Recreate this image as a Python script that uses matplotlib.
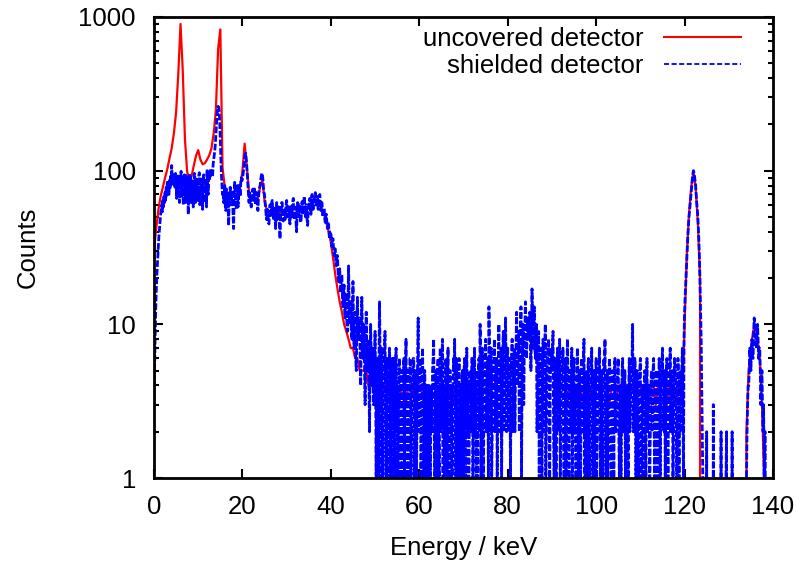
import numpy as np
import matplotlib
matplotlib.use("Agg")
import matplotlib.pyplot as plt
from matplotlib.ticker import LogLocator, NullFormatter

plt.rcParams["font.family"] = ["Liberation Sans", "DejaVu Sans"]
# keep every channel of the dense spectra when rendering
plt.rcParams["path.simplify"] = False

# Channel widths of the two spectra (keV per channel)
shielded_bin_kev = 0.125
uncovered_bin_kev = 0.5

# Shielded detector, counts per 0.125 keV channel (one row = 2.5 keV)
shielded_00_20 = [
    3, 5, 8, 12, 16, 20, 24, 28, 33, 38, 42, 47, 52, 56, 60, 54, 64, 58, 68, 62,
    72, 64, 78, 68, 84, 74, 80, 70, 88, 76, 92, 82, 108, 86, 80, 94, 84, 90, 78, 96,
    86, 66, 95, 78, 70, 92, 62, 88, 80, 99, 68, 90, 84, 60, 64, 94, 88, 62, 93, 66,
    82, 90, 52, 78, 68, 95, 91, 62, 67, 86, 85, 58, 78, 96, 94, 62, 66, 84, 88, 64,
    73, 92, 97, 60, 70, 88, 83, 66, 56, 90, 94, 62, 75, 86, 86, 58, 100, 82, 70, 90,
    86, 100, 92, 96, 100, 94, 92, 110, 118, 126, 135, 150, 172, 198, 228, 250, 262, 258, 245, 205,
    160, 120, 95, 80, 70, 74, 62, 70, 80, 58, 55, 76, 74, 62, 66, 44, 66, 72, 78, 60,
    60, 74, 70, 52, 42, 64, 84, 70, 63, 56, 72, 80, 58, 66, 80, 74, 68, 84, 90, 86,
]
shielded_20_40 = [
    88, 94, 100, 110, 122, 128, 130, 118, 105, 92, 80, 70, 62, 72, 70, 60, 58, 66, 72, 76,
    64, 70, 76, 68, 60, 72, 70, 62, 55, 66, 74, 78, 80, 86, 92, 96, 96, 88, 78, 72,
    70, 62, 58, 50, 48, 56, 55, 46, 45, 54, 60, 50, 52, 62, 64, 54, 48, 56, 57, 50,
    42, 55, 62, 48, 50, 58, 58, 44, 36, 50, 55, 62, 62, 52, 47, 57, 57, 48, 52, 60,
    64, 55, 50, 58, 58, 48, 45, 56, 60, 50, 53, 62, 66, 52, 48, 58, 57, 46, 40, 54,
    62, 50, 51, 60, 59, 47, 46, 58, 63, 52, 54, 64, 68, 56, 50, 60, 60, 48, 44, 56,
    58, 64, 66, 54, 52, 66, 70, 60, 56, 62, 64, 70, 72, 62, 58, 66, 68, 56, 60, 68,
    70, 60, 55, 62, 62, 52, 50, 56, 57, 48, 46, 52, 52, 44, 42, 46, 44, 38, 36, 40,
]
shielded_40_60 = [
    40, 34, 32, 36, 36, 30, 28, 31, 31, 26, 24, 28, 28, 22, 19, 22, 23, 18, 16, 20,
    21, 15, 13, 17, 18, 12, 11, 15, 16, 10, 9, 13, 24, 14, 10, 12, 14, 9, 8, 11,
    19, 10, 7, 11, 12, 6, 5, 9, 15, 10, 8, 11, 11, 6, 4, 9, 15, 9, 6, 10,
    9, 5, 3, 7, 12, 7, 5, 8, 8, 4, 2, 6, 10, 6, 4, 7, 7, 3, 3, 6,
    9, 4, 1, 6, 6, 2, 1, 5, 14, 7, 1, 6, 7, 2, 1, 4, 5, 7, 9, 2,
    1, 5, 6, 2, 1, 4, 7, 5, 2, 1, 5, 6, 1, 3, 6, 2, 1, 5, 7, 2,
    4, 1, 2, 5, 6, 2, 1, 5, 5, 1, 2, 4, 6, 1, 4, 5, 8, 2, 1, 5,
    5, 1, 3, 6, 6, 1, 2, 4, 4, 6, 6, 1, 2, 4, 5, 1, 3, 6, 11, 2,
]
shielded_60_80 = [
    4, 6, 6, 1, 2, 5, 7, 2, 1, 5, 5, 2, 1, 3, 4, 1, 3, 4, 4, 2,
    1, 3, 4, 2, 5, 6, 8, 2, 1, 3, 5, 4, 1, 5, 6, 2, 1, 5, 7, 2,
    3, 6, 8, 1, 4, 2, 1, 5, 6, 2, 1, 5, 7, 3, 1, 5, 5, 2, 4, 1,
    1, 4, 6, 5, 8, 2, 1, 6, 5, 1, 2, 4, 6, 1, 4, 2, 1, 4, 5, 2,
    1, 5, 6, 3, 1, 5, 7, 2, 4, 1, 1, 5, 5, 2, 3, 6, 6, 1, 2, 5,
    7, 2, 4, 1, 5, 3, 1, 5, 6, 2, 10, 6, 1, 5, 7, 2, 1, 3, 5, 6,
    8, 2, 3, 5, 6, 1, 13, 7, 2, 6, 7, 1, 2, 4, 5, 6, 8, 2, 3, 6,
    6, 1, 4, 5, 10, 2, 2, 5, 7, 1, 5, 6, 9, 2, 3, 7, 11, 6, 2, 6,
]
shielded_80_100 = [
    7, 2, 2, 5, 6, 1, 4, 6, 8, 2, 3, 6, 7, 2, 5, 7, 12, 7, 4, 7,
    9, 2, 6, 8, 13, 1, 5, 7, 10, 3, 7, 9, 14, 9, 6, 8, 11, 9, 8, 10,
    12, 8, 5, 9, 17, 11, 7, 9, 13, 8, 6, 8, 10, 2, 3, 6, 9, 1, 5, 6,
    7, 2, 1, 5, 8, 2, 4, 7, 10, 1, 3, 5, 6, 7, 8, 2, 1, 4, 7, 6,
    5, 7, 9, 2, 1, 4, 6, 1, 1, 4, 7, 5, 2, 6, 8, 1, 2, 4, 5, 6,
    7, 2, 1, 5, 6, 1, 1, 4, 8, 5, 2, 1, 5, 4, 2, 5, 7, 1, 3, 5,
    6, 2, 4, 1, 1, 4, 7, 5, 1, 4, 5, 2, 1, 4, 6, 5, 2, 6, 8, 1,
    1, 3, 5, 2, 1, 5, 6, 2, 1, 3, 4, 5, 7, 2, 1, 3, 5, 1, 3, 4,
]
shielded_100_120 = [
    6, 1, 2, 3, 4, 5, 7, 2, 1, 4, 5, 2, 1, 4, 6, 5, 8, 2, 1, 4,
    5, 1, 2, 4, 6, 5, 2, 1, 1, 3, 5, 4, 1, 5, 6, 2, 2, 3, 4, 5,
    6, 2, 1, 3, 4, 1, 3, 5, 6, 2, 2, 4, 5, 1, 3, 4, 4, 2, 1, 4,
    6, 2, 3, 4, 5, 6, 10, 2, 2, 4, 6, 5, 1, 4, 5, 2, 1, 3, 4, 5,
    6, 1, 2, 3, 4, 1, 3, 4, 5, 2, 1, 4, 6, 2, 3, 4, 4, 1, 2, 4,
    5, 2, 3, 5, 6, 2, 1, 3, 4, 5, 5, 1, 2, 4, 6, 5, 1, 4, 4, 5,
    7, 2, 2, 4, 5, 1, 3, 5, 6, 2, 1, 3, 4, 5, 7, 2, 3, 4, 5, 1,
    2, 4, 6, 5, 4, 2, 1, 4, 6, 5, 1, 4, 5, 2, 2, 5, 7, 3, 1, 8,
]
shielded_120_140 = [
    12, 15, 18, 22, 26, 32, 38, 44, 50, 55, 60, 66, 72, 80, 88, 95, 100, 97, 92, 86,
    80, 70, 62, 56, 50, 42, 34, 26, 18, 12, 8, 4, 2, 1, 0, 0, 1, 0, 0, 0,
    2, 0, 0, 0, 0, 0, 1, 0, 0, 0, 1, 0, 3, 0, 0, 0, 0, 0, 0, 0,
    0, 0, 1, 0, 0, 0, 2, 0, 0, 0, 1, 0, 0, 0, 0, 1, 2, 0, 0, 0,
    0, 0, 1, 0, 0, 0, 2, 0, 0, 0, 0, 0, 1, 0, 0, 0, 0, 0, 0, 0,
    0, 0, 1, 0, 0, 0, 0, 0, 1, 0, 0, 0, 1, 2, 3, 4, 4, 5, 7, 6,
    5, 7, 8, 6, 6, 9, 11, 10, 9, 8, 7, 9, 10, 8, 6, 7, 7, 5, 3, 4,
    5, 3, 2, 3, 1, 2, 2, 0, 0, 0, 0, 0, 0, 0, 0, 0, 0, 0, 0, 0,
]

# Uncovered detector, counts per 0.5 keV channel (one row = 5 keV)
uncovered_00_35 = [
    30, 42, 56, 68, 78, 90, 102, 120, 140, 175,
    240, 430, 900, 450, 160, 98, 88, 92, 108, 125,
    136, 118, 110, 112, 118, 126, 140, 175, 250, 620,
    830, 105, 78, 72, 70, 68, 70, 67, 72, 78,
    100, 150, 105, 72, 66, 68, 64, 66, 78, 88,
    64, 55, 52, 56, 54, 52, 55, 50, 56, 53,
    55, 54, 57, 53, 52, 56, 55, 57, 58, 55,
]
uncovered_35_70 = [
    59, 60, 62, 63, 62, 60, 56, 52, 46, 40,
    34, 27, 21, 17, 14, 12, 10, 9, 8, 7,
    7, 6, 6, 5, 5, 5, 5, 4, 4, 4,
    4, 4, 4, 3, 4, 4, 4, 3, 4, 4,
    4, 3, 4, 4, 3, 4, 4, 4, 3, 4,
    4, 4, 3, 4, 4, 3, 4, 4, 4, 3,
    4, 4, 4, 3, 4, 4, 3, 4, 4, 4,
]
uncovered_70_105 = [
    4, 4, 3, 4, 4, 4, 3, 4, 4, 4,
    4, 4, 5, 4, 4, 5, 5, 4, 5, 5,
    5, 5, 5, 6, 6, 7, 8, 8, 8, 8,
    8, 8, 7, 6, 5, 5, 4, 4, 4, 4,
    4, 4, 4, 3, 4, 4, 4, 3, 4, 4,
    4, 3, 4, 4, 3, 4, 4, 4, 3, 4,
    4, 4, 3, 4, 4, 4, 3, 4, 4, 3,
]
uncovered_105_140 = [
    4, 4, 3, 4, 4, 3, 4, 4, 3, 4,
    4, 3, 4, 4, 3, 4, 4, 3, 4, 4,
    4, 4, 3, 4, 4, 4, 3, 4, 4, 3,
    10, 28, 52, 78, 98, 78, 46, 20, 0, 0,
    0, 0, 0, 0, 0, 0, 0, 0, 0, 0,
    0, 0, 0, 0, 0, 0, 0, 0, 2, 5,
    7, 9, 10, 8, 6, 3, 1, 0, 0, 0,
]

x_ticks = [0, 20, 40, 60, 80, 100, 120, 140]
y_ticks = [1, 10, 100, 1000]
y_tick_labels = ["1", "10", "100", "1000"]

shielded_counts = np.array(shielded_00_20 + shielded_20_40 + shielded_40_60 + shielded_60_80
                           + shielded_80_100 + shielded_100_120 + shielded_120_140, dtype=float)
uncovered_counts = np.array(uncovered_00_35 + uncovered_35_70 + uncovered_70_105
                            + uncovered_105_140, dtype=float)
shielded_energy = np.arange(len(shielded_counts)) * shielded_bin_kev
uncovered_energy = np.arange(len(uncovered_counts)) * uncovered_bin_kev

W, H = 801, 562
fig = plt.figure(figsize=(W / 100, H / 100), dpi=100)
ax = fig.add_axes([154 / W, 1 - 478 / H, (773 - 154) / W, (478 - 17) / H])

ax.plot(uncovered_energy, uncovered_counts, color="#ff0000", lw=1.6,
        label="uncovered detector")
ax.plot(shielded_energy, shielded_counts, color="#0000ff", lw=2.0,
        dashes=(2.4, 0.7), label="shielded detector")

ax.set_yscale("log", nonpositive="clip")
ax.set_xlim(0, 140)
ax.set_ylim(1, 1000)
ax.set_xticks(x_ticks)
ax.set_xticklabels([str(t) for t in x_ticks])
ax.set_yticks(y_ticks)
ax.set_yticklabels(y_tick_labels)
ax.yaxis.set_minor_locator(LogLocator(base=10, subs=np.arange(2, 10)))
ax.yaxis.set_minor_formatter(NullFormatter())

fs = 18.5
ax.tick_params(which="both", direction="in", top=True, right=True, width=1.5)
ax.tick_params(which="major", length=6.5, labelsize=fs)
ax.tick_params(axis="y", which="major", pad=13)
ax.tick_params(axis="x", which="major", pad=12)
ax.tick_params(which="minor", length=3.5)
for s in ax.spines.values():
    s.set_linewidth(2.0)

ax.set_xlabel("Energy / keV", fontsize=fs)
ax.set_ylabel("Counts", fontsize=fs)
ax.xaxis.set_label_coords(0.5, -0.125)
ax.yaxis.set_label_coords(-0.184, 0.5)

leg = ax.legend(frameon=False, markerfirst=False, loc="upper right",
                bbox_to_anchor=(0.948, 0.978), borderaxespad=0, borderpad=0,
                handlelength=3.0, handletextpad=0.8, labelspacing=0.1,
                fontsize=fs)
red_handle, blue_handle = leg.get_lines()
red_handle.set_linewidth(1.5)
blue_handle.set_linewidth(1.3)
blue_handle.set_dashes((2.8, 1.4))

fig.savefig("out.png", dpi=100)
